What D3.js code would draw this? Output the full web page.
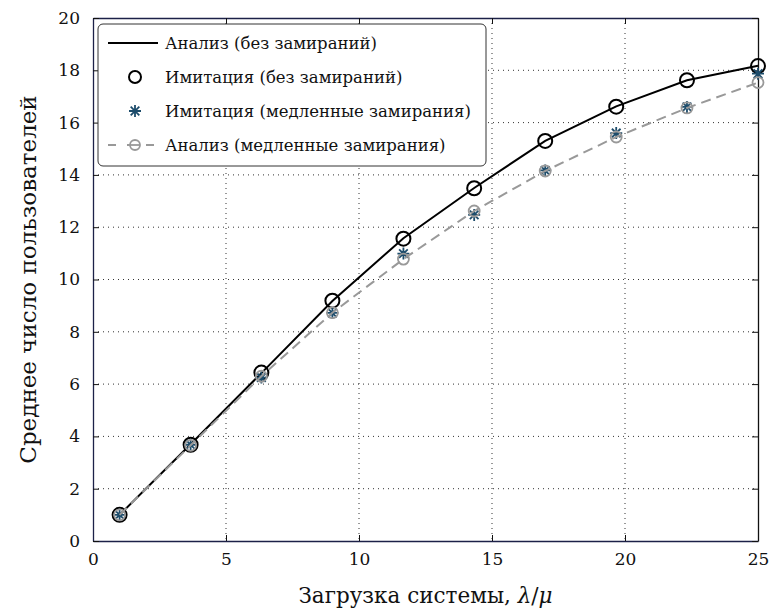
<!DOCTYPE html>
<html lang="ru">
<head>
    <meta charset="UTF-8">
    <title>Среднее число пользователей</title>
    <style>
        body { margin: 0; background: #fff; }
        svg { display: block; }
        svg text { fill: #111; }
        .grid line { stroke: #333; stroke-width: 1; stroke-dasharray: 1, 4; }
        .legend-text { font-size: 16.5px; }
    </style>
</head>
<body>
<svg id="chart"></svg>

<script src="https://cdnjs.cloudflare.com/ajax/libs/d3/7.8.5/d3.min.js"></script>
<script>
    // data
    const load = [1, 3.67, 6.33, 9, 11.67, 14.33, 17, 19.67, 22.33, 25];
    const analysisNoFade = [1.0, 3.7, 6.42, 9.18, 11.58, 13.5, 15.3, 16.62, 17.62, 18.17];
    const simNoFade = [1.0, 3.68, 6.44, 9.19, 11.56, 13.49, 15.3, 16.61, 17.62, 18.16];
    const simSlowFade = [1.0, 3.68, 6.25, 8.72, 10.99, 12.47, 14.17, 15.6, 16.6, 17.87];
    const analysisSlowFade = [1.0, 3.66, 6.3, 8.73, 10.78, 12.62, 14.15, 15.45, 16.56, 17.53];

    const xTicks = [0, 5, 10, 15, 20, 25];
    const yTicks = [0, 2, 4, 6, 8, 10, 12, 14, 16, 18, 20];

    const legendLabels = [
        "Анализ (без замираний)",
        "Имитация (без замираний)",
        "Имитация (медленные замирания)",
        "Анализ (медленные замирания)"
    ];

    const width = 772, height = 610;
    const m = {left: 93, right: 758, top: 18, bottom: 541};
    const serif = "DejaVu Serif";

    const svg = d3.select("#chart").attr("width", width).attr("height", height);

    const x = d3.scaleLinear().domain([0, 25]).range([m.left, m.right]);
    const y = d3.scaleLinear().domain([0, 20]).range([m.bottom, m.top]);

    // dotted grid
    const grid = svg.append("g").attr("class", "grid");
    grid.selectAll("line.gx")
        .data(xTicks.filter(d => d > 0 && d < 25))
        .enter().append("line")
        .attr("class", "gx")
        .attr("x1", d => x(d)).attr("x2", d => x(d))
        .attr("y1", m.top).attr("y2", m.bottom);
    grid.selectAll("line.gy")
        .data(yTicks.filter(d => d > 0 && d < 20))
        .enter().append("line")
        .attr("class", "gy")
        .attr("x1", m.left).attr("x2", m.right)
        .attr("y1", d => y(d)).attr("y2", d => y(d));

    // axes with inward ticks, box on all four sides
    const axisColor = "#1c2148";
    const xAxisB = d3.axisBottom(x).tickValues(xTicks).tickSizeInner(-6).tickSizeOuter(0).tickPadding(12);
    const xAxisT = d3.axisTop(x).tickValues(xTicks).tickSizeInner(-6).tickSizeOuter(0).tickFormat("");
    const yAxisL = d3.axisLeft(y).tickValues(yTicks).tickSizeInner(-6).tickSizeOuter(0).tickPadding(13);
    const yAxisR = d3.axisRight(y).tickValues(yTicks).tickSizeInner(-6).tickSizeOuter(0).tickFormat("");

    function styleAxis(g, color) {
        g.attr("font-family", serif).attr("font-size", 17);
        g.select(".domain").attr("stroke", color).attr("stroke-width", 1.3);
        g.selectAll(".tick line").attr("stroke", "#111");
        g.selectAll(".tick text").attr("fill", "#111");
    }

    svg.append("g").attr("transform", `translate(0,${m.bottom})`).call(xAxisB).call(g => styleAxis(g, axisColor));
    svg.append("g").attr("transform", `translate(0,${m.top})`).call(xAxisT).call(g => styleAxis(g, axisColor));
    svg.append("g").attr("transform", `translate(${m.left},0)`).call(yAxisL).call(g => styleAxis(g, axisColor));
    svg.append("g").attr("transform", `translate(${m.right},0)`).call(yAxisR).call(g => styleAxis(g, "#111"));

    const rows = load.map((d, i) => ({
        x: d,
        a0: analysisNoFade[i],
        s0: simNoFade[i],
        s1: simSlowFade[i],
        a1: analysisSlowFade[i]
    }));

    const plot = svg.append("g");

    // analysis, no fading
    plot.append("path")
        .datum(rows)
        .attr("fill", "none").attr("stroke", "#000").attr("stroke-width", 2)
        .attr("d", d3.line().x(d => x(d.x)).y(d => y(d.a0)));

    // simulation, no fading
    plot.selectAll("circle.s0")
        .data(rows).enter().append("circle")
        .attr("class", "s0")
        .attr("cx", d => x(d.x)).attr("cy", d => y(d.s0)).attr("r", 7)
        .attr("fill", "none").attr("stroke", "#000").attr("stroke-width", 2);

    // asterisk marker
    const starColor = "#1d4c6b";
    function star(g, cx, cy, s) {
        const d = s * 0.72;
        g.append("path")
            .attr("d", `M${cx - s},${cy}L${cx + s},${cy}M${cx},${cy - s}L${cx},${cy + s}` +
                `M${cx - d},${cy - d}L${cx + d},${cy + d}M${cx - d},${cy + d}L${cx + d},${cy - d}`)
            .attr("stroke", starColor).attr("stroke-width", 1.8).attr("fill", "none");
    }

    const stars = plot.append("g");
    rows.forEach(d => star(stars, x(d.x), y(d.s1), 6));

    // analysis, slow fading
    plot.append("path")
        .datum(rows)
        .attr("fill", "none").attr("stroke", "#999").attr("stroke-width", 2)
        .attr("stroke-dasharray", "10,6")
        .attr("d", d3.line().x(d => x(d.x)).y(d => y(d.a1)));
    plot.selectAll("circle.a1")
        .data(rows).enter().append("circle")
        .attr("class", "a1")
        .attr("cx", d => x(d.x)).attr("cy", d => y(d.a1)).attr("r", 5.5)
        .attr("fill", "none").attr("stroke", "#999").attr("stroke-width", 1.8);

    // legend
    const legend = svg.append("g");
    legend.append("rect")
        .attr("x", 98).attr("y", 24).attr("width", 388).attr("height", 142)
        .attr("rx", 5).attr("fill", "#fff").attr("stroke", "#333").attr("stroke-width", 1);

    const rowY = [43, 77, 111, 145];
    const sampleX = 135, textX = 165;

    legend.append("line").attr("x1", 108).attr("x2", 158).attr("y1", rowY[0]).attr("y2", rowY[0])
        .attr("stroke", "#000").attr("stroke-width", 2);
    legend.append("circle").attr("cx", sampleX).attr("cy", rowY[1]).attr("r", 6)
        .attr("fill", "none").attr("stroke", "#000").attr("stroke-width", 2);
    star(legend, sampleX, rowY[2], 6);
    legend.append("line").attr("x1", 108).attr("x2", 158).attr("y1", rowY[3]).attr("y2", rowY[3])
        .attr("stroke", "#999").attr("stroke-width", 2).attr("stroke-dasharray", "8,11");
    legend.append("circle").attr("cx", sampleX).attr("cy", rowY[3]).attr("r", 5)
        .attr("fill", "#fff").attr("stroke", "#999").attr("stroke-width", 1.8);
    legend.append("line").attr("x1", sampleX - 5).attr("x2", sampleX + 5).attr("y1", rowY[3]).attr("y2", rowY[3])
        .attr("stroke", "#999").attr("stroke-width", 1.8);

    legend.selectAll("text")
        .data(legendLabels).enter().append("text")
        .attr("class", "legend-text")
        .attr("font-family", serif)
        .attr("x", textX).attr("y", (d, i) => rowY[i]).attr("dy", "0.35em")
        .text(d => d);

    // axis titles
    const xTitle = svg.append("text")
        .attr("font-family", serif).attr("font-size", 21.5)
        .attr("x", (m.left + m.right) / 2).attr("y", 603).attr("text-anchor", "middle");
    xTitle.append("tspan").text("Загрузка системы, ");
    xTitle.append("tspan").attr("font-style", "italic").text("λ");
    xTitle.append("tspan").text("/");
    xTitle.append("tspan").attr("font-style", "italic").text("μ");

    svg.append("text")
        .attr("font-family", serif).attr("font-size", 23)
        .attr("transform", `translate(36,${(m.top + m.bottom) / 2}) rotate(-90)`)
        .attr("text-anchor", "middle")
        .text("Среднее число пользователей");
</script>
</body>
</html>
